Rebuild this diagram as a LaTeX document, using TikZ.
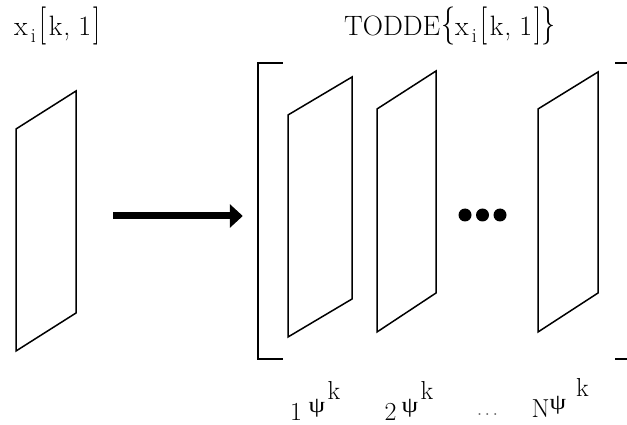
\documentclass[tikz,border=0pt]{standalone}
\usepackage{fontspec}
\usepackage{graphicx}
\newfontfamily\grk{Liberation Serif}
\usetikzlibrary{arrows.meta}
% tall bracket / brace
\newcommand\tb[1]{\scalebox{1}[1.36]{#1}}
% lowered subscript
\newcommand\lsub[1]{\raisebox{-7pt}{\fontsize{20}{20}\selectfont #1}}
% x_i[k,1]
\newcommand\xik{x\hspace{3pt}\lsub{i}\hspace{4pt}\tb{[}\hspace{2pt}k\hspace{1pt},\hspace{8pt}1\hspace{2pt}\tb{]}}
% label  <index> psi ^k : #1 index, #2 gap before psi, #3 gap before k
\newcommand\psilab[3]{#1\hspace{#2}\raisebox{8pt}{\fontsize{22}{24}\selectfont\grk\scalebox{1.2}[1]{ψ}}\hspace{#3}\raisebox{21pt}{k}}
\tikzset{
  panelline/.style={line width=1.5pt, line join=miter},
  bracketline/.style={line width=1.8pt},
  bigarrow/.style={line width=7pt, -{Triangle[length=13pt,width=23pt]}},
  holder/.style={inner sep=0pt, minimum width=#1, draw=none},
  toplabel/.style={inner sep=0pt, anchor=base west, font=\fontsize{28}{34}\selectfont},
  botlabel/.style={inner sep=0pt, anchor=base west, font=\fontsize{26}{30}\selectfont},
  dotstyle/.style={circle, fill=black, inner sep=0pt, minimum size=13pt}
}
\begin{document}
\begin{tikzpicture}[x=1pt, y=-1pt]
\useasboundingbox (0,0) rectangle (627,425);
\clip (0,0) rectangle (627,425);

% placeholder nodes for the two groups
\node[holder=60pt, minimum height=260pt] (in) at (46,221) {};
\node[holder=372pt, minimum height=296pt] (out) at (444,211) {};

% input panel
\draw[panelline] (16,129) -- (76,91) -- (76,313) -- (16,351) -- cycle;

% output panels
\draw[panelline] (288,115) -- (352,77) -- (352,299) -- (288,337) -- cycle;
\draw[panelline] (377,109) -- (436,71) -- (436,293) -- (377,332) -- cycle;
\draw[panelline] (538,109) -- (598,72) -- (598,293) -- (538,332) -- cycle;

% brackets
\draw[bracketline] ([xshift=25pt]out.north west) -| (out.south west) -- ([xshift=25pt]out.south west);
\draw[bracketline] ([xshift=-15pt]out.north east) -| (out.south east) -- ([xshift=-15pt]out.south east);

% arrow
\draw[bigarrow] ([xshift=37pt,yshift=5pt]in.east) -- ([xshift=-15pt,yshift=-5pt]out.west);

% dots
\node[dotstyle] (d1) at (465,215) {};
\node[dotstyle] (d2) at (482.5,215) {};
\node[dotstyle] (d3) at (500,215) {};

% labels
\node[toplabel] (lin) at (14,36) {\xik};
\node[toplabel] (lout) at (344,36) {TODDE\hspace{1pt}\tb{\{}\xik\tb{\}}};

\node[botlabel] (l1) at (290,420) {\psilab{1}{6.5pt}{2.5pt}};
\node[botlabel] (l2) at (384.5,420) {\psilab{2}{5pt}{2.5pt}};
\node[inner sep=0pt, anchor=base, font=\fontsize{24}{28}\selectfont, text=black!60] (ldots) at (487.5,415) {.\hspace{2pt}.\hspace{2pt}.};
\node[botlabel] (lN) at (531.5,417) {\psilab{N}{0pt}{10pt}};
\end{tikzpicture}
\end{document}
